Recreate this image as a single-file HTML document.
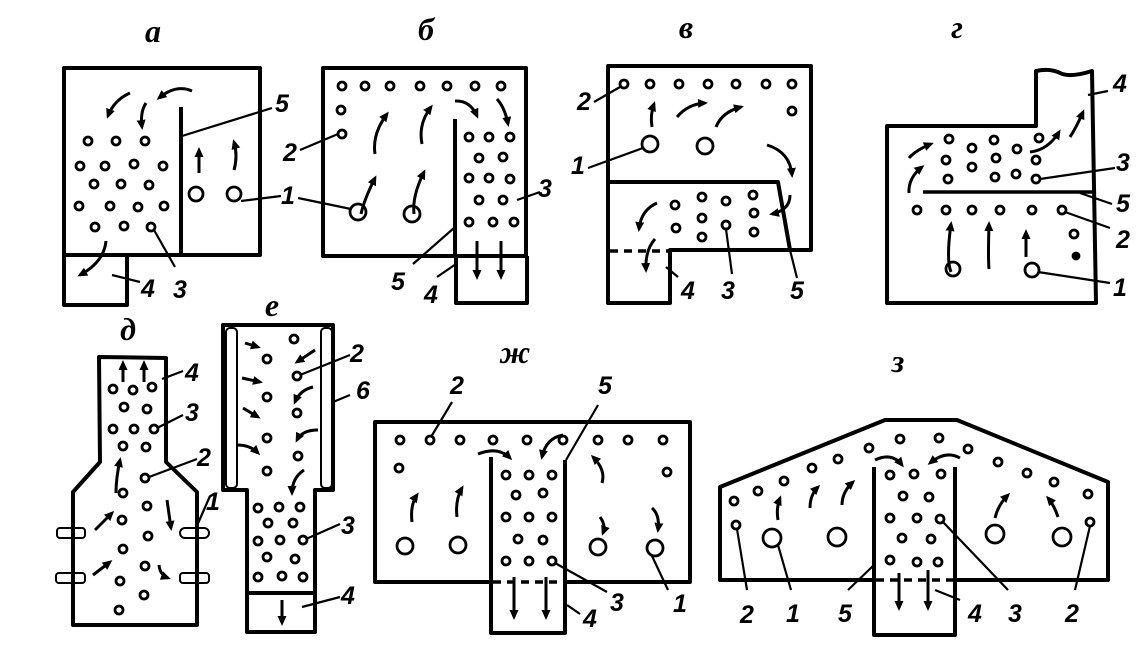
<!DOCTYPE html>
<html><head><meta charset="utf-8"><style>
html,body{margin:0;padding:0;background:#fff;}
svg{display:block;}
text{font-family:"Liberation Sans",sans-serif;font-style:italic;font-weight:bold;font-size:25px;fill:#000;text-anchor:middle;}
.t{font-family:"Liberation Serif",serif;font-size:32px;}
</style></head><body>
<svg width="1146" height="664" viewBox="0 0 1146 664" xmlns="http://www.w3.org/2000/svg">
<defs><marker id="ah" markerWidth="11" markerHeight="11" refX="7" refY="4.5" orient="auto" markerUnits="userSpaceOnUse"><path d="M0,0 L10,4.5 L0,9 z" fill="#000"/></marker></defs>
<g fill="none" stroke="#000" stroke-width="4" stroke-linejoin="round">
<rect x="64" y="68" width="196" height="187"/>
<path d="M64 255 V305 H127 V255"/>
<line x1="181" y1="107" x2="181" y2="255"/>
<rect x="323" y="68" width="203" height="188"/>
<path d="M456 256 V303 H527 V256"/>
<line x1="455" y1="119" x2="455" y2="256"/>
<path d="M608 66 H811 V250 H670 V303 H608 Z"/>
<path d="M608 182 H778 L790 250"/>
<path d="M887 126 H1036 V71 Q1050 68 1060 73 T1092 71 L1096 303 H887 Z"/>
<line x1="923" y1="192" x2="1094" y2="192" stroke-width="3.5"/>
<path d="M99 357 L166 358 V462 L197 492 V625 H73 V492 L100 462 Z"/>
<path d="M223 325 H333 V490 H315 V632 H247 V490 H223 Z"/>
<line x1="247" y1="593" x2="315" y2="593"/>
<path d="M491 582 H375 V422 H690 V582 H565"/>
<path d="M491 457 V633 H565 V460"/>
<path d="M874 580 H720 V487 L885 420 H957 L1108 482 V580 H955"/>
<path d="M874 467 V635 H955 V467"/>
</g>
<g fill="none" stroke="#000" stroke-width="2">
<rect x="226" y="328" width="11" height="160" rx="4"/>
<rect x="321" y="328" width="11" height="160" rx="4"/>
<rect x="57" y="528" width="28" height="10" rx="3"/>
<rect x="56" y="573" width="29" height="10" rx="3"/>
<rect x="180" y="528" width="29" height="10" rx="5"/>
<rect x="180" y="573" width="29" height="10" rx="3"/>
</g>
<g stroke="#000" stroke-width="3.5" stroke-dasharray="8 6">
<line x1="610" y1="251" x2="670" y2="251"/>
<line x1="493" y1="582" x2="565" y2="582"/>
<line x1="876" y1="580" x2="955" y2="580"/>
</g>
<g fill="none" stroke="#000" stroke-width="2.8">
<circle cx="88" cy="141" r="4"/><circle cx="116" cy="141" r="4"/><circle cx="145" cy="141" r="4"/>
<circle cx="80" cy="166" r="4"/><circle cx="105" cy="166" r="4"/><circle cx="134" cy="164" r="4"/><circle cx="163" cy="166" r="4"/>
<circle cx="94" cy="184" r="4"/><circle cx="121" cy="184" r="4"/><circle cx="149" cy="185" r="4"/>
<circle cx="79" cy="206" r="4"/><circle cx="110" cy="206" r="4"/><circle cx="138" cy="207" r="4"/><circle cx="164" cy="206" r="4"/>
<circle cx="95" cy="227" r="4"/><circle cx="124" cy="226" r="4"/><circle cx="151" cy="227" r="4"/>
<circle cx="196" cy="194" r="7"/><circle cx="234" cy="194" r="7"/>
<circle cx="342" cy="86" r="4"/><circle cx="365" cy="86" r="4"/><circle cx="390" cy="86" r="4"/><circle cx="420" cy="86" r="4"/><circle cx="447" cy="86" r="4"/><circle cx="475" cy="86" r="4"/><circle cx="501" cy="86" r="4"/>
<circle cx="341" cy="110" r="4"/><circle cx="342" cy="134" r="4"/>
<circle cx="469" cy="137" r="4"/><circle cx="489" cy="137" r="4"/><circle cx="510" cy="137" r="4"/>
<circle cx="479" cy="158" r="4"/><circle cx="503" cy="157" r="4"/>
<circle cx="469" cy="178" r="4"/><circle cx="489" cy="178" r="4"/><circle cx="510" cy="179" r="4"/>
<circle cx="479" cy="200" r="4"/><circle cx="503" cy="200" r="4"/>
<circle cx="469" cy="222" r="4"/><circle cx="493" cy="222" r="4"/><circle cx="514" cy="222" r="4"/>
<circle cx="358" cy="212" r="8"/><circle cx="412" cy="214" r="8"/>
<circle cx="624" cy="84" r="4"/><circle cx="650" cy="84" r="4"/><circle cx="679" cy="84" r="4"/><circle cx="708" cy="84" r="4"/><circle cx="736" cy="84" r="4"/><circle cx="766" cy="84" r="4"/><circle cx="792" cy="84" r="4"/>
<circle cx="792" cy="111" r="4"/>
<circle cx="650" cy="144" r="8"/><circle cx="705" cy="146" r="8"/>
<circle cx="675" cy="205" r="4"/><circle cx="702" cy="197" r="4"/><circle cx="726" cy="201" r="4"/><circle cx="753" cy="195" r="4"/>
<circle cx="702" cy="218" r="4"/><circle cx="754" cy="213" r="4"/>
<circle cx="676" cy="228" r="4"/><circle cx="726" cy="225" r="4"/><circle cx="702" cy="237" r="4"/><circle cx="754" cy="232" r="4"/>
<circle cx="949" cy="139" r="4"/><circle cx="972" cy="148" r="4"/><circle cx="994" cy="140" r="4"/><circle cx="1017" cy="149" r="4"/><circle cx="1039" cy="138" r="4"/>
<circle cx="946" cy="160" r="4"/><circle cx="972" cy="167" r="4"/><circle cx="996" cy="158" r="4"/><circle cx="1036" cy="160" r="4"/>
<circle cx="948" cy="179" r="4"/><circle cx="995" cy="177" r="4"/><circle cx="1016" cy="174" r="4"/><circle cx="1036" cy="179" r="4"/>
<circle cx="917" cy="210" r="4"/><circle cx="946" cy="210" r="4"/><circle cx="972" cy="210" r="4"/><circle cx="1000" cy="210" r="4"/><circle cx="1032" cy="210" r="4"/><circle cx="1062" cy="210" r="4"/>
<circle cx="1074" cy="234" r="4"/><circle cx="1076" cy="256" r="3" fill="#000"/>
<circle cx="953" cy="269" r="7"/><circle cx="1032" cy="270" r="7"/>
<circle cx="113" cy="389" r="4"/><circle cx="133" cy="390" r="4"/><circle cx="152" cy="387" r="4"/>
<circle cx="124" cy="407" r="4"/><circle cx="147" cy="409" r="4"/>
<circle cx="113" cy="429" r="4"/><circle cx="134" cy="429" r="4"/><circle cx="154" cy="429" r="4"/>
<circle cx="123" cy="446" r="4"/><circle cx="146" cy="447" r="4"/>
<circle cx="145" cy="478" r="4"/><circle cx="123" cy="493" r="4"/><circle cx="147" cy="506" r="4"/><circle cx="122" cy="520" r="4"/><circle cx="148" cy="536" r="4"/><circle cx="123" cy="549" r="4"/><circle cx="145" cy="566" r="4"/><circle cx="120" cy="581" r="4"/><circle cx="144" cy="595" r="4"/><circle cx="119" cy="610" r="4"/>
<circle cx="294" cy="339" r="4"/><circle cx="267" cy="359" r="4"/><circle cx="297" cy="376" r="4"/><circle cx="267" cy="397" r="4"/><circle cx="297" cy="413" r="4"/><circle cx="267" cy="438" r="4"/><circle cx="298" cy="456" r="4"/><circle cx="267" cy="471" r="4"/>
<circle cx="258" cy="508" r="4"/><circle cx="279" cy="507" r="4"/><circle cx="300" cy="507" r="4"/>
<circle cx="268" cy="523" r="4"/><circle cx="293" cy="523" r="4"/>
<circle cx="258" cy="541" r="4"/><circle cx="280" cy="540" r="4"/><circle cx="303" cy="540" r="4"/>
<circle cx="267" cy="557" r="4"/><circle cx="295" cy="559" r="4"/>
<circle cx="258" cy="577" r="4"/><circle cx="282" cy="576" r="4"/><circle cx="303" cy="577" r="4"/>
<circle cx="400" cy="440" r="4"/><circle cx="430" cy="440" r="4"/><circle cx="460" cy="440" r="4"/><circle cx="493" cy="440" r="4"/><circle cx="527" cy="440" r="4"/><circle cx="563" cy="440" r="4"/><circle cx="598" cy="440" r="4"/><circle cx="628" cy="440" r="4"/><circle cx="663" cy="440" r="4"/>
<circle cx="399" cy="468" r="4"/><circle cx="667" cy="472" r="4"/>
<circle cx="506" cy="475" r="4"/><circle cx="529" cy="475" r="4"/><circle cx="552" cy="475" r="4"/>
<circle cx="516" cy="495" r="4"/><circle cx="543" cy="493" r="4"/>
<circle cx="506" cy="517" r="4"/><circle cx="529" cy="517" r="4"/><circle cx="552" cy="517" r="4"/>
<circle cx="518" cy="539" r="4"/><circle cx="543" cy="540" r="4"/>
<circle cx="506" cy="561" r="4"/><circle cx="529" cy="561" r="4"/><circle cx="552" cy="561" r="4"/>
<circle cx="405" cy="546" r="8"/><circle cx="458" cy="545" r="8"/><circle cx="598" cy="547" r="8"/><circle cx="655" cy="548" r="8"/>
<circle cx="734" cy="501" r="4"/><circle cx="758" cy="491" r="4"/><circle cx="784" cy="481" r="4"/><circle cx="812" cy="468" r="4"/><circle cx="838" cy="459" r="4"/><circle cx="869" cy="448" r="4"/><circle cx="900" cy="439" r="4"/><circle cx="939" cy="438" r="4"/><circle cx="968" cy="449" r="4"/><circle cx="998" cy="462" r="4"/><circle cx="1027" cy="473" r="4"/><circle cx="1054" cy="482" r="4"/><circle cx="1088" cy="494" r="4"/>
<circle cx="736" cy="525" r="4"/><circle cx="1090" cy="522" r="4"/>
<circle cx="890" cy="475" r="4"/><circle cx="914" cy="474" r="4"/><circle cx="941" cy="474" r="4"/>
<circle cx="903" cy="496" r="4"/><circle cx="929" cy="497" r="4"/>
<circle cx="890" cy="518" r="4"/><circle cx="917" cy="518" r="4"/><circle cx="940" cy="519" r="4"/>
<circle cx="902" cy="538" r="4"/><circle cx="931" cy="539" r="4"/>
<circle cx="890" cy="560" r="4"/><circle cx="917" cy="562" r="4"/><circle cx="938" cy="562" r="4"/>
<circle cx="772" cy="538" r="9"/><circle cx="837" cy="537" r="9"/><circle cx="995" cy="534" r="9"/><circle cx="1062" cy="537" r="9"/>
</g>
<g fill="none" stroke="#000" stroke-width="3" marker-end="url(#ah)">
<path d="M130 93 Q114 100 108 116"/><path d="M146 103 Q140 112 142 127"/><path d="M192 91 Q176 84 159 98"/>
<path d="M199 173 V150"/><path d="M234 170 Q238 156 234 142"/><path d="M106 241 Q104 262 80 275"/>
<path d="M375 154 Q372 134 387 114"/><path d="M422 144 Q418 124 431 107"/><path d="M455 101 Q470 100 477 116"/><path d="M497 99 Q505 108 508 124"/>
<path d="M361 214 Q364 200 375 178"/><path d="M414 214 Q412 196 424 172"/>
<path d="M477 241 V277"/><path d="M501 241 V277"/>
<path d="M652 127 Q650 115 654 104"/><path d="M677 117 Q688 104 705 103"/><path d="M716 127 Q722 112 741 107"/><path d="M767 145 Q790 152 792 175"/><path d="M790 195 Q790 210 772 214"/><path d="M657 203 Q641 210 639 229"/><path d="M655 239 Q645 250 646 270"/>
<path d="M909 193 Q908 178 922 167"/><path d="M909 158 Q916 150 931 144"/><path d="M1030 152 Q1048 150 1059 132"/><path d="M1070 137 Q1076 128 1083 112"/>
<path d="M951 272 Q946 260 951 224"/><path d="M989 269 Q988 258 989 224"/><path d="M1026 257 V232"/>
<path d="M123 382 V363"/><path d="M144 382 V363"/><path d="M116 493 Q116 478 120 460"/><path d="M95 530 L112 513"/><path d="M93 575 L110 562"/><path d="M167 500 L171 528"/><path d="M159 565 Q160 575 168 578"/>
<path d="M245 343 L258 347"/><path d="M242 378 L260 382"/><path d="M243 408 L258 417"/><path d="M238 445 Q250 445 258 453"/>
<path d="M315 350 L297 362"/><path d="M313 387 Q300 390 295 402"/><path d="M318 430 Q302 430 297 440"/><path d="M304 470 Q292 478 292 493"/>
<path d="M282 600 V623"/>
<path d="M478 454 Q498 446 510 458"/><path d="M563 435 Q546 438 542 457"/><path d="M412 522 Q410 505 417 495"/><path d="M457 517 Q455 500 462 488"/>
<path d="M602 483 Q606 470 593 457"/><path d="M600 517 Q606 525 603 533"/><path d="M652 508 Q660 515 658 530"/>
<path d="M514 577 V617"/><path d="M546 577 V617"/>
<path d="M875 460 Q892 452 902 465"/><path d="M960 458 Q946 450 930 463"/><path d="M778 520 Q776 508 780 498"/><path d="M810 508 Q810 495 818 487"/><path d="M842 505 Q842 492 853 482"/><path d="M995 518 Q998 505 1008 495"/><path d="M1058 517 Q1054 505 1048 498"/>
<path d="M899 573 V608"/><path d="M928 570 V608"/>
</g>
<g stroke="#000" stroke-width="2.2">
<line x1="182" y1="136" x2="272" y2="108"/><line x1="241" y1="201" x2="281" y2="196"/><line x1="112" y1="275" x2="140" y2="282"/><line x1="154" y1="230" x2="175" y2="267"/>
<line x1="300" y1="150" x2="338" y2="134"/><line x1="298" y1="198" x2="351" y2="209"/><line x1="517" y1="200" x2="540" y2="192"/><line x1="454" y1="228" x2="413" y2="264"/><line x1="456" y1="264" x2="437" y2="277"/>
<line x1="620" y1="87" x2="594" y2="102"/><line x1="643" y1="148" x2="588" y2="168"/><line x1="666" y1="267" x2="678" y2="277"/><line x1="726" y1="229" x2="732" y2="274"/><line x1="790" y1="250" x2="797" y2="278"/>
<line x1="1088" y1="95" x2="1108" y2="91"/><line x1="1040" y1="179" x2="1115" y2="168"/><line x1="1080" y1="193" x2="1112" y2="204"/><line x1="1065" y1="212" x2="1110" y2="228"/><line x1="1038" y1="272" x2="1110" y2="283"/>
<line x1="162" y1="379" x2="183" y2="371"/><line x1="157" y1="428" x2="183" y2="415"/><line x1="149" y1="477" x2="197" y2="459"/><line x1="196" y1="528" x2="210" y2="496"/>
<line x1="300" y1="375" x2="350" y2="355"/><line x1="333" y1="402" x2="350" y2="395"/><line x1="306" y1="539" x2="340" y2="524"/><line x1="302" y1="607" x2="340" y2="597"/>
<line x1="431" y1="437" x2="452" y2="402"/><line x1="566" y1="460" x2="598" y2="405"/><line x1="555" y1="563" x2="607" y2="592"/><line x1="652" y1="556" x2="668" y2="590"/><line x1="567" y1="605" x2="580" y2="614"/>
<line x1="737" y1="529" x2="747" y2="590"/><line x1="778" y1="545" x2="791" y2="590"/><line x1="874" y1="565" x2="848" y2="590"/><line x1="935" y1="590" x2="960" y2="600"/><line x1="943" y1="522" x2="1008" y2="590"/><line x1="1090" y1="526" x2="1075" y2="590"/>
</g>
<g>
<text class="t" x="153" y="42">а</text><text class="t" x="426" y="40">б</text><text class="t" x="686" y="38">в</text><text class="t" x="957" y="38">г</text>
<text class="t" x="128" y="340">д</text><text class="t" x="272" y="316">е</text><text class="t" x="515" y="363">ж</text><text class="t" x="898" y="372">з</text>
<text x="282" y="112">5</text><text x="288" y="204">1</text><text x="148" y="297">4</text><text x="180" y="298">3</text>
<text x="290" y="161">2</text><text x="545" y="197">3</text><text x="398" y="290">5</text><text x="431" y="303">4</text>
<text x="584" y="110">2</text><text x="578" y="174">1</text><text x="688" y="299">4</text><text x="728" y="299">3</text><text x="797" y="299">5</text>
<text x="1120" y="92">4</text><text x="1123" y="171">3</text><text x="1123" y="212">5</text><text x="1123" y="248">2</text><text x="1120" y="296">1</text>
<text x="192" y="381">4</text><text x="192" y="421">3</text><text x="204" y="466">2</text><text x="213" y="510">1</text>
<text x="357" y="362">2</text><text x="363" y="399">6</text><text x="348" y="534">3</text><text x="348" y="604">4</text>
<text x="457" y="394">2</text><text x="605" y="394">5</text><text x="617" y="611">3</text><text x="680" y="612">1</text><text x="590" y="627">4</text>
<text x="747" y="623">2</text><text x="793" y="622">1</text><text x="845" y="622">5</text><text x="975" y="622">4</text><text x="1015" y="622">3</text><text x="1072" y="622">2</text>
</g>
</svg>
</body></html>
